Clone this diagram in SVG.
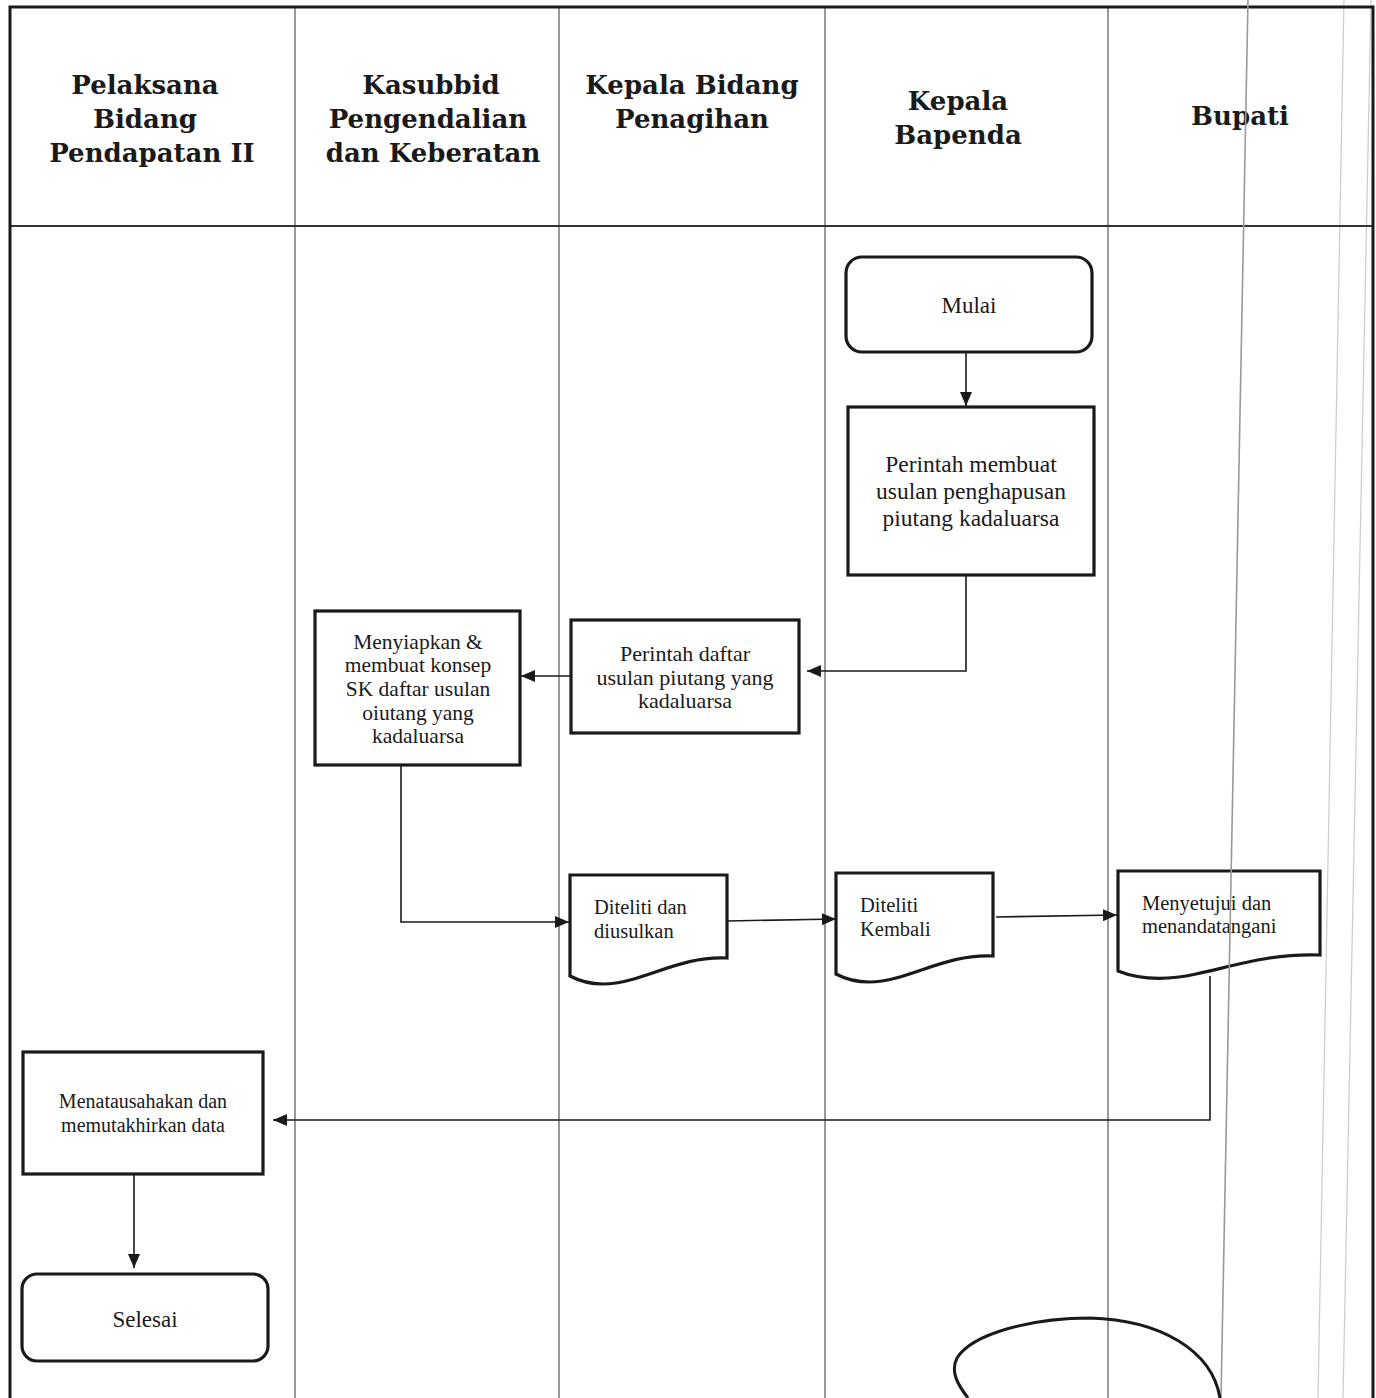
<svg xmlns="http://www.w3.org/2000/svg" width="1376" height="1398" viewBox="0 0 1376 1398">
<defs>
<marker id="ah" viewBox="0 0 14 12" refX="14" refY="6" markerWidth="14" markerHeight="12" markerUnits="userSpaceOnUse" orient="auto">
<path d="M0,0 L14,6 L0,12 Z" fill="#1a1a1a"/>
</marker>
<style>
.hdr{font-family:"DejaVu Serif","Liberation Serif",serif;font-weight:bold;font-size:26px;fill:#1a1a1a;text-anchor:middle}
.t{font-family:"Liberation Serif","Times New Roman",serif;fill:#1a1a1a}
.c{text-anchor:middle}
.box{fill:#ffffff;stroke:#1a1a1a;stroke-width:3.2}
.lane{stroke:#555;stroke-width:1.2;fill:none}
.con{stroke:#1a1a1a;stroke-width:1.6;fill:none;marker-end:url(#ah)}
.scan{stroke:#999;stroke-width:1.6;fill:none}
.faint{stroke:#ccc;stroke-width:1.2;fill:none}
</style>
</defs>
<rect width="1376" height="1398" fill="#ffffff"/>

<g id="lanes">
<line class="faint" x1="1344" y1="0" x2="1318" y2="1398"/>
<line class="faint" x1="1371" y1="0" x2="1343" y2="1398"/>
<line class="lane" x1="295" y1="8" x2="295" y2="1398"/>
<line class="lane" x1="559" y1="8" x2="559" y2="1398"/>
<line class="lane" x1="825" y1="8" x2="825" y2="1398"/>
<line class="lane" x1="1108" y1="8" x2="1108" y2="1398"/>
<line x1="10" y1="226" x2="1373" y2="226" stroke="#333" stroke-width="2"/>
<path d="M10,1398 V7 H1373 V1398" fill="none" stroke="#1a1a1a" stroke-width="3"/>
</g>

<g id="headers">
<text class="hdr" x="145" y="94">Pelaksana</text>
<text class="hdr" x="145" y="128">Bidang</text>
<text class="hdr" x="152" y="162">Pendapatan II</text>
<text class="hdr" x="431" y="94">Kasubbid</text>
<text class="hdr" x="428" y="128">Pengendalian</text>
<text class="hdr" x="433" y="162">dan Keberatan</text>
<text class="hdr" x="692" y="94">Kepala Bidang</text>
<text class="hdr" x="692" y="128">Penagihan</text>
<text class="hdr" x="958" y="110">Kepala</text>
<text class="hdr" x="958" y="144">Bapenda</text>
<text class="hdr" x="1240" y="125">Bupati</text>
</g>

<g id="mulai">
<rect class="box" x="846" y="257" width="246" height="95" rx="16"/>
<text class="t c" x="969" y="313" font-size="23">Mulai</text>
</g>

<g id="perintah-membuat">
<rect class="box" x="848" y="407" width="246" height="168"/>
<text class="t c" x="971" y="472" font-size="23.5">Perintah membuat</text>
<text class="t c" x="971" y="499" font-size="23.5">usulan penghapusan</text>
<text class="t c" x="971" y="526" font-size="23.5">piutang kadaluarsa</text>
</g>

<g id="perintah-daftar">
<rect class="box" x="571" y="620" width="228" height="113"/>
<text class="t c" x="685" y="661" font-size="22">Perintah daftar</text>
<text class="t c" x="685" y="685" font-size="22">usulan piutang yang</text>
<text class="t c" x="685" y="708" font-size="22">kadaluarsa</text>
</g>

<g id="menyiapkan">
<rect class="box" x="315" y="611" width="205" height="154"/>
<text class="t c" x="418" y="649" font-size="21.5">Menyiapkan &amp;</text>
<text class="t c" x="418" y="672" font-size="21.5">membuat konsep</text>
<text class="t c" x="418" y="696" font-size="21.5">SK daftar usulan</text>
<text class="t c" x="418" y="720" font-size="21.5">oiutang yang</text>
<text class="t c" x="418" y="743" font-size="21.5">kadaluarsa</text>
</g>

<g id="diteliti-diusulkan">
<path class="box" d="M570,875 H727 V958 C690,956 660,972 630,980 C605,987 585,984 570,976 Z"/>
<text class="t" x="594" y="914" font-size="20.5">Diteliti dan</text>
<text class="t" x="594" y="938" font-size="20.5">diusulkan</text>
</g>

<g id="diteliti-kembali">
<path class="box" d="M836,873 H993 V956 C956,954 926,970 896,978 C871,985 851,982 836,974 Z"/>
<text class="t" x="860" y="912" font-size="20.5">Diteliti</text>
<text class="t" x="860" y="936" font-size="20.5">Kembali</text>
</g>

<g id="menyetujui">
<path class="box" d="M1118,871 H1320 V955 C1272,953 1234,966 1196,974 C1164,981 1138,979 1118,971 Z"/>
<text class="t" x="1142" y="910" font-size="20.5">Menyetujui dan</text>
<text class="t" x="1142" y="933" font-size="20.5">menandatangani</text>
</g>

<g id="menatausahakan">
<rect class="box" x="23" y="1052" width="240" height="122"/>
<text class="t c" x="143" y="1108" font-size="20">Menatausahakan dan</text>
<text class="t c" x="143" y="1132" font-size="20">memutakhirkan data</text>
</g>

<g id="selesai">
<rect class="box" x="22" y="1274" width="246" height="87" rx="15"/>
<text class="t c" x="145" y="1327" font-size="23">Selesai</text>
</g>

<g id="connectors">
<path class="con" d="M966,352 V406"/>
<path class="con" d="M966,575 V671 H807"/>
<path class="con" d="M571,676 H521"/>
<path class="con" d="M401,765 V922 H569"/>
<path class="con" d="M727,921 L836,919"/>
<path class="con" d="M996,917 L1117,915"/>
<path class="con" d="M1210,976 V1120 H273"/>
<path class="con" d="M134,1174 V1268"/>
</g>

<g id="marks">
<line class="scan" x1="1248" y1="0" x2="1221" y2="1398"/>
<path d="M968,1398 C958,1385 950,1372 957,1358 C972,1334 1030,1318 1090,1318 C1160,1320 1212,1350 1220,1398" fill="none" stroke="#1a1a1a" stroke-width="3"/>
</g>
</svg>
